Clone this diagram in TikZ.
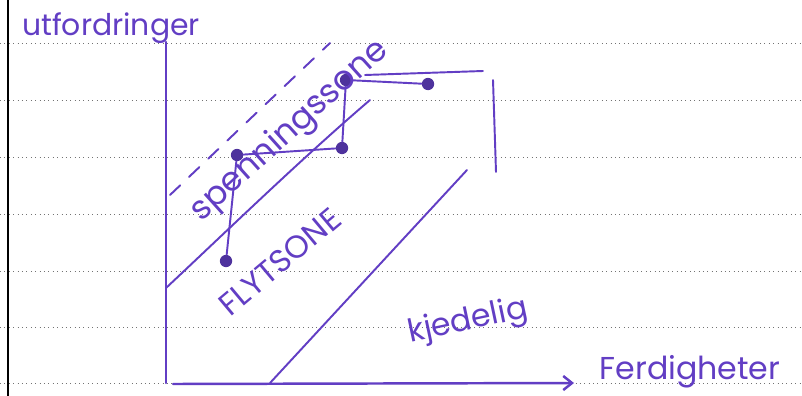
\documentclass[tikz,border=0pt]{standalone}
\usepackage{fontspec}
\usepackage{tikz}
\usetikzlibrary{arrows.meta,positioning}
\newfontfamily\handfont{Poppins}
\definecolor{ink_purple}{RGB}{98,62,196}

\begin{document}
\begin{tikzpicture}[x=0.2mm, y=-0.2mm, font=\handfont,
    inkline/.style={ink_purple, line width=1.1pt, line cap=round},
    dotpt/.style={circle, fill=ink_purple!80!black, inner sep=0pt, minimum size=7pt},
    handlabel/.style={ink_purple, inner sep=0pt}]
        \useasboundingbox (0,0) rectangle (802,396);
        \fill[white] (0,0) rectangle (802,396);
        % ruled paper
        \foreach \y in {43,100,157,214,271,327,383}{
          \draw[black!55, dotted, line width=0.5pt] (0,\y) -- (802,\y);
        }
        \draw[black, line width=0.9pt] (8,0) -- (8,396);
        % axes
        \coordinate (ytop) at (166,42);
        \coordinate (orig) at (166,383);
        \coordinate (xstart) at (173,384);
        \coordinate (xend) at (574,383);
        \draw[inkline, line width=1.4pt] (ytop) -- (orig);
        \draw[inkline, line width=1.4pt, -{Straight Barb[length=5pt,width=8pt]}] (xstart) -- (xend);
        \node[handlabel, font=\handfont\fontsize{17}{17}\selectfont] (yl) at (111,28) {utfordringer};
        \node[handlabel, font=\handfont\fontsize{18}{18}\selectfont] (xl) at (690,372) {Ferdigheter};
        % zone borders
        \coordinate (dA) at (170,195);
        \coordinate (dB) at (330,43);
        \draw[inkline, dash pattern=on 8pt off 7pt] (dA) -- (dB);
        \coordinate (uA) at (166,288);
        \coordinate (uB) at (370,100);
        \draw[inkline] (uA) .. controls (230,228) and (300,160) .. (uB);
        \coordinate (lA) at (270,383);
        \coordinate (lB) at (467,170);
        \draw[inkline] (lA) -- (lB);
        \coordinate (vA) at (493,80);
        \coordinate (vB) at (496,172);
        \draw[inkline] (vA) -- (vB);
        % stairs
        \node[dotpt] (s1) at (226,261) {};
        \node[dotpt] (s2) at (237,155) {};
        \node[dotpt] (s3) at (342,148) {};
        \node[dotpt] (s4) at (346,80) {};
        \node[dotpt] (s5) at (428,84) {};
        \draw[inkline] (s1) -- (s2) -- (s3) -- (s4) -- (s5);
        \coordinate (tA) at (365,75);
        \coordinate (tB) at (483,71);
        \draw[inkline] (tA) -- (tB);
        % zone names
        \node[handlabel, rotate=42, font=\handfont\fontsize{19}{19}\selectfont] (spz) at (290,131) {spenningssone};
        \node[handlabel, rotate=40, font=\handfont\fontsize{18}{18}\selectfont] (flz) at (280,262) {FLYTSONE};
        \node[handlabel, rotate=12, font=\handfont\fontsize{18}{18}\selectfont] (kjz) at (468,322) {kjedelig};
      \end{tikzpicture}
\end{document}
